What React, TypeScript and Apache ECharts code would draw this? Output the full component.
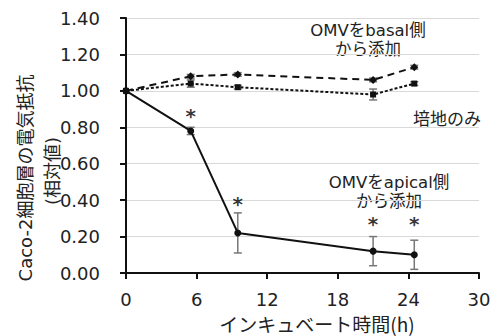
import React, { useEffect, useRef } from "react";
import * as echarts from "echarts";

const times = [0, 5.5, 9.5, 21, 24.5];
const apical = [1.0, 0.78, 0.22, 0.12, 0.1];
const apicalErr = [0, 0.02, 0.11, 0.08, 0.08];
const basal = [1.0, 1.08, 1.09, 1.06, 1.13];
const basalErr = [0, 0.01, 0.01, 0.01, 0.01];
const medium = [1.0, 1.04, 1.02, 0.98, 1.04];
const mediumErr = [0, 0.02, 0.01, 0.03, 0.01];
const starX = [5.5, 9.5, 21, 24.5];
const starY = [0.86, 0.38, 0.27, 0.27];

const yTitle1 = "Caco-2細胞層の電気抵抗";
const yTitle2 = "(相対値)";
const xTitle = "インキュベート時間(h)";
const noteBasal = "OMVをbasal側\nから添加";
const noteMedium = "培地のみ";
const noteApical = "OMVをapical側\nから添加";

const FONT = "'DejaVu Sans', 'Noto Sans CJK JP', sans-serif";
const CJK = "'Noto Sans CJK JP', 'DejaVu Sans', sans-serif";

function pairs(ys: number[]) {
  return times.map((t, i) => [t, ys[i]]);
}
function errData(ys: number[], es: number[]) {
  return times.map((t, i) => [t, ys[i], es[i]]);
}

const errSeries = (ys: number[], es: number[]) => ({
  type: "custom",
  data: errData(ys, es),
  z: 1,
  renderItem: (params: any, api: any) => {
    const x = api.value(0);
    const y = api.value(1);
    const e = api.value(2);
    if (!e) return { type: "group", children: [] };
    const top = api.coord([x, y + e]);
    const bot = api.coord([x, y - e]);
    const w = 4;
    const style = { stroke: "#777", lineWidth: 1.5 };
    return {
      type: "group",
      children: [
        { type: "line", shape: { x1: top[0], y1: top[1], x2: bot[0], y2: bot[1] }, style },
        { type: "line", shape: { x1: top[0] - w, y1: top[1], x2: top[0] + w, y2: top[1] }, style },
        { type: "line", shape: { x1: bot[0] - w, y1: bot[1], x2: bot[0] + w, y2: bot[1] }, style },
      ],
    };
  },
});

export default function App() {
  const ref = useRef<HTMLDivElement>(null);
  useEffect(() => {
    const chart = echarts.init(ref.current!, null, { renderer: "svg" });
    chart.setOption({
      animation: false,
      backgroundColor: "#fff",
      grid: { left: 126, right: 23, top: 18, bottom: 63 },
      xAxis: {
        type: "value",
        min: 0,
        max: 30,
        interval: 6,
        axisLine: { lineStyle: { color: "#111", width: 2 } },
        axisTick: { show: true, length: 6, lineStyle: { color: "#111", width: 2 } },
        axisLabel: { color: "#222", fontSize: 18, fontFamily: FONT, margin: 17 },
        splitLine: { show: false },
      },
      yAxis: {
        type: "value",
        min: 0,
        max: 1.4,
        interval: 0.2,
        axisLine: { show: true, lineStyle: { color: "#111", width: 2 } },
        axisTick: { show: true, length: 6, lineStyle: { color: "#111", width: 2 } },
        axisLabel: {
          color: "#222",
          fontSize: 18,
          fontFamily: FONT,
          margin: 26,
          formatter: (v: number) => v.toFixed(2),
        },
        splitLine: { show: true, lineStyle: { color: "#d9d9d9", width: 1 } },
      },
      graphic: [
        {
          type: "text",
          x: 25,
          y: 178,
          rotation: Math.PI / 2,
          style: {
            text: yTitle1,
            font: `18px ${FONT}`,
            fill: "#222",
            textAlign: "center",
            textVerticalAlign: "middle",
          },
        },
        {
          type: "text",
          x: 52,
          y: 171,
          rotation: Math.PI / 2,
          style: {
            text: yTitle2,
            font: `18px ${FONT}`,
            fill: "#222",
            textAlign: "center",
            textVerticalAlign: "middle",
          },
        },
        {
          type: "text",
          x: 317,
          y: 323,
          style: { text: xTitle, font: `19px ${CJK}`, fill: "#222", textAlign: "center", textVerticalAlign: "middle" },
        },
        {
          type: "text",
          x: 368,
          y: 40,
          style: { text: noteBasal, font: `16.5px ${FONT}`, fill: "#222", textAlign: "center", textVerticalAlign: "middle", lineHeight: 19 },
        },
        {
          type: "text",
          x: 447,
          y: 117,
          style: { text: noteMedium, font: `17px ${CJK}`, fill: "#222", textAlign: "center", textVerticalAlign: "middle" },
        },
        {
          type: "text",
          x: 389,
          y: 192,
          style: { text: noteApical, font: `16.5px ${FONT}`, fill: "#222", textAlign: "center", textVerticalAlign: "middle", lineHeight: 19 },
        },
      ],
      series: [
        errSeries(apical, apicalErr),
        errSeries(basal, basalErr),
        errSeries(medium, mediumErr),
        {
          type: "line",
          data: pairs(basal),
          symbol: "diamond",
          symbolSize: 8,
          lineStyle: { color: "#111", width: 2, type: [7, 5] },
          itemStyle: { color: "#111" },
          z: 3,
        },
        {
          type: "line",
          data: pairs(medium),
          symbol: "rect",
          symbolSize: 6,
          lineStyle: { color: "#111", width: 2, type: [3, 2] },
          itemStyle: { color: "#111" },
          z: 3,
        },
        {
          type: "line",
          data: pairs(apical),
          symbol: "circle",
          symbolSize: 7,
          lineStyle: { color: "#111", width: 2 },
          itemStyle: { color: "#111" },
          z: 4,
        },
        {
          type: "scatter",
          data: starX.map((x, i) => [x, starY[i]]),
          symbolSize: 0,
          itemStyle: { color: "#000" },
          label: {
            show: true,
            position: "inside",
            formatter: "*",
            fontSize: 20,
            fontWeight: "bold",
            fontFamily: FONT,
            color: "#000",
            textBorderWidth: 0,
          },
          z: 5,
        },
      ],
    });
    return () => chart.dispose();
  }, []);
  return <div ref={ref} style={{ position: "fixed", left: 0, top: 0, width: 502, height: 336 }} />;
}
